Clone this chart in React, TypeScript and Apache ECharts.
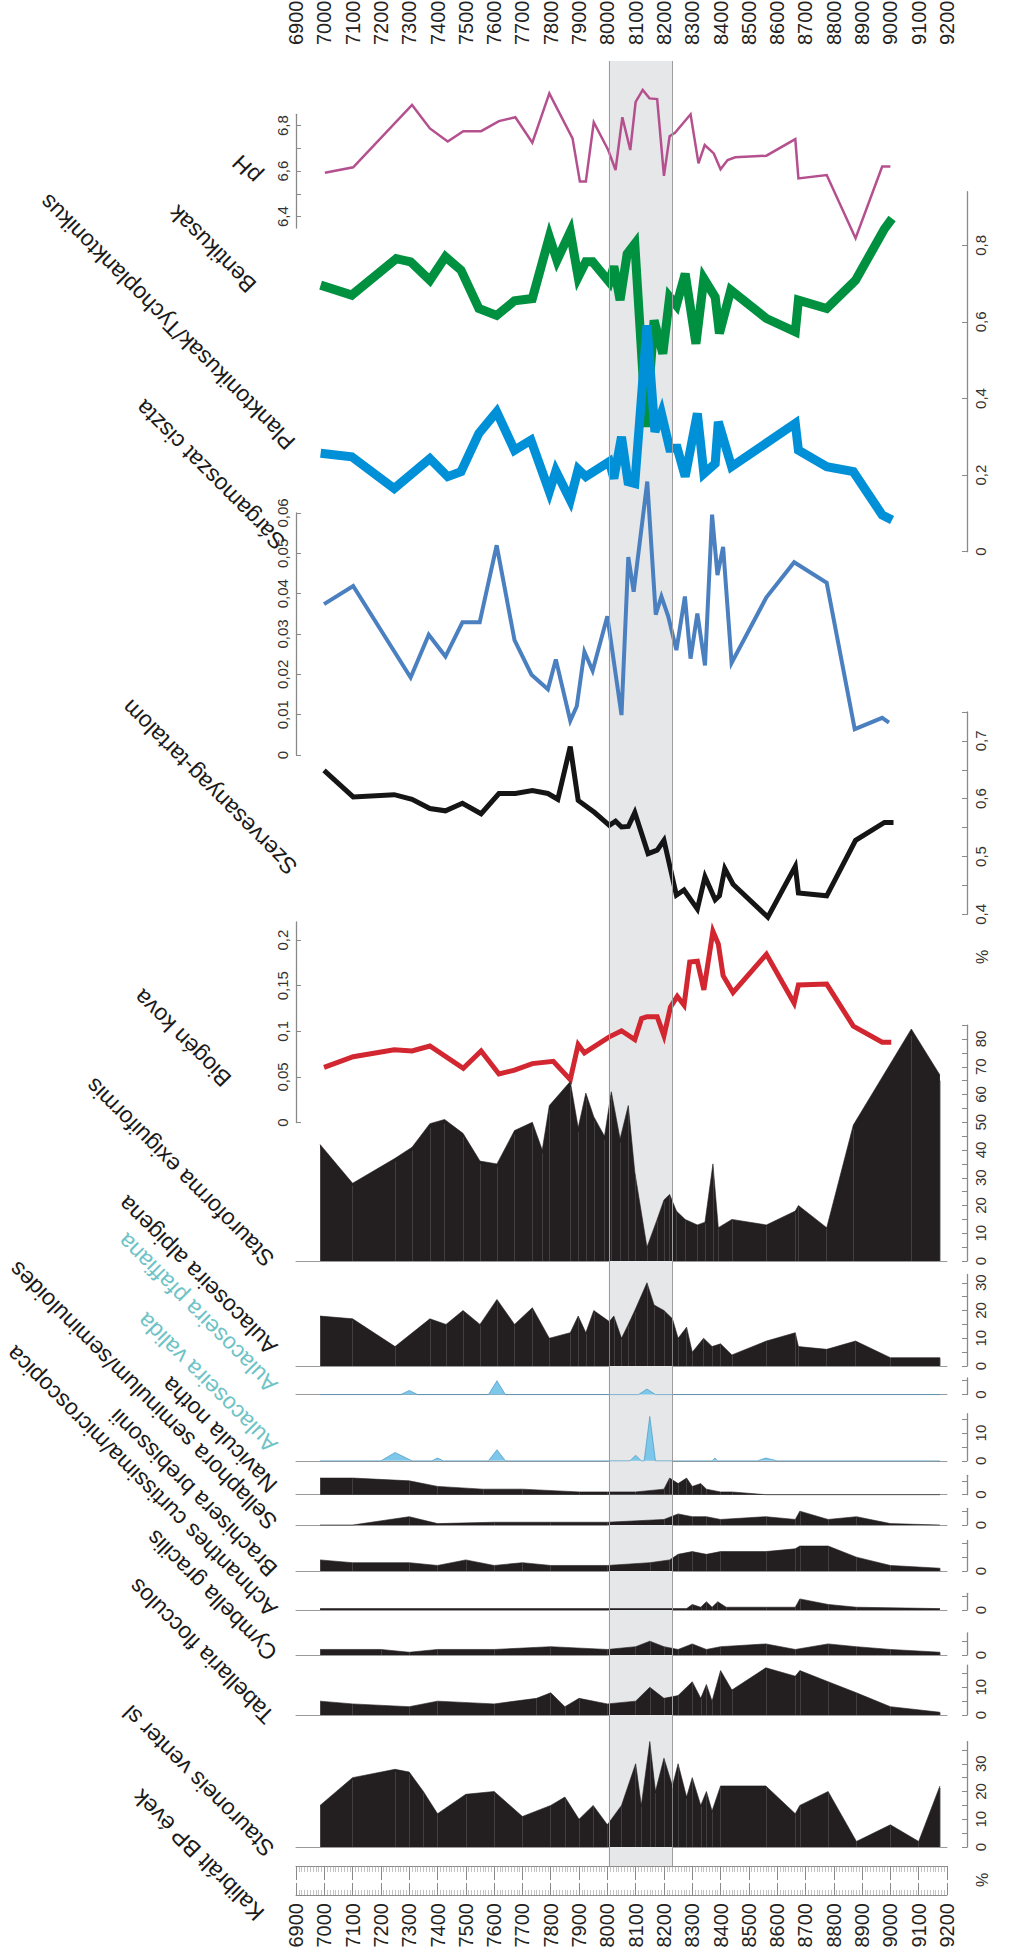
import React, { useEffect, useRef } from "react";
import * as echarts from "echarts";

const AGE_MIN = 6900;
const AGE_MAX = 9200;
const BAND = [8005, 8230];

const phData: [number, number][] = [
  [7002, 6.593], [7102, 6.617], [7310, 6.891], [7373, 6.788], [7436, 6.73], [7491, 6.776], [7554, 6.776],
  [7617, 6.82], [7675, 6.837], [7735, 6.725], [7795, 6.942], [7877, 6.744], [7903, 6.554], [7924, 6.554],
  [7952, 6.815], [8003, 6.693], [8029, 6.605], [8053, 6.837], [8081, 6.693], [8100, 6.905], [8125, 6.957],
  [8149, 6.92], [8176, 6.917], [8200, 6.579], [8220, 6.754], [8239, 6.769], [8294, 6.85], [8322, 6.634],
  [8344, 6.715], [8376, 6.678], [8400, 6.608], [8425, 6.649], [8452, 6.661], [8562, 6.668], [8664, 6.741],
  [8675, 6.568], [8775, 6.583], [8877, 6.305], [8971, 6.62], [9000, 6.62],
];

const benthicData: [number, number][] = [
  [6987, 0.696], [7097, 0.67], [7254, 0.765], [7305, 0.757], [7373, 0.709], [7428, 0.77], [7483, 0.735],
  [7546, 0.635], [7609, 0.617], [7672, 0.655], [7735, 0.661], [7795, 0.822], [7822, 0.761], [7869, 0.835],
  [7897, 0.717], [7924, 0.757], [7948, 0.757], [8007, 0.704], [8023, 0.745], [8045, 0.657], [8070, 0.778],
  [8097, 0.804], [8137, 0.326], [8165, 0.604], [8196, 0.517], [8220, 0.665], [8244, 0.643], [8275, 0.726],
  [8313, 0.543], [8341, 0.713], [8381, 0.665], [8396, 0.57], [8436, 0.683], [8562, 0.609], [8664, 0.574],
  [8675, 0.657], [8775, 0.635], [8877, 0.709], [8979, 0.843], [9006, 0.87],
];

const planktonData: [number, number][] = [
  [6987, 0.257], [7097, 0.248], [7247, 0.165], [7373, 0.243], [7436, 0.196], [7483, 0.209], [7546, 0.309],
  [7609, 0.365], [7672, 0.265], [7730, 0.291], [7795, 0.157], [7818, 0.211], [7869, 0.135], [7897, 0.215],
  [7924, 0.196], [8007, 0.235], [8023, 0.191], [8050, 0.3], [8073, 0.183], [8097, 0.178], [8140, 0.591],
  [8168, 0.313], [8191, 0.361], [8220, 0.27], [8247, 0.27], [8275, 0.196], [8318, 0.361], [8341, 0.204],
  [8381, 0.23], [8392, 0.339], [8439, 0.222], [8664, 0.335], [8675, 0.265], [8775, 0.222], [8869, 0.209],
  [8971, 0.096], [9006, 0.083],
];

const cystData: [number, number][] = [
  [6999, 0.0374], [7102, 0.0419], [7305, 0.0192], [7369, 0.0298], [7428, 0.0244], [7488, 0.0329],
  [7549, 0.0329], [7609, 0.052], [7672, 0.0285], [7732, 0.0199], [7790, 0.0163], [7818, 0.0237],
  [7869, 0.0085], [7892, 0.0121], [7919, 0.0256], [7948, 0.0209], [8000, 0.0344], [8050, 0.0099],
  [8074, 0.0491], [8093, 0.0405], [8141, 0.0678], [8171, 0.0348], [8191, 0.0393], [8215, 0.0344],
  [8244, 0.026], [8274, 0.0393], [8294, 0.0239], [8318, 0.0351], [8345, 0.0222], [8370, 0.0596],
  [8389, 0.0446], [8409, 0.0516], [8439, 0.0228], [8562, 0.0391], [8660, 0.0478], [8775, 0.0427],
  [8874, 0.0064], [8971, 0.0092], [8995, 0.008],
];

const organicData: [number, number][] = [
  [6999, 0.649], [7102, 0.603], [7247, 0.607], [7310, 0.599], [7373, 0.583], [7428, 0.579], [7488, 0.592],
  [7554, 0.574], [7617, 0.609], [7675, 0.609], [7735, 0.614], [7790, 0.609], [7825, 0.599], [7869, 0.69],
  [7897, 0.597], [7955, 0.576], [8007, 0.554], [8029, 0.561], [8050, 0.551], [8074, 0.552], [8097, 0.576],
  [8144, 0.505], [8176, 0.511], [8200, 0.528], [8244, 0.433], [8271, 0.442], [8318, 0.409], [8345, 0.465],
  [8381, 0.425], [8396, 0.432], [8415, 0.479], [8444, 0.452], [8567, 0.395], [8664, 0.483], [8675, 0.437],
  [8775, 0.432], [8877, 0.528], [8979, 0.559], [9011, 0.559],
];

const silicaData: [number, number][] = [
  [6999, 0.0604], [7102, 0.0721], [7247, 0.0797], [7310, 0.0784], [7373, 0.0839], [7491, 0.0595],
  [7554, 0.0784], [7617, 0.0532], [7672, 0.0574], [7735, 0.0646], [7809, 0.0671], [7869, 0.047],
  [7897, 0.0855], [7919, 0.0763], [8007, 0.0939], [8050, 0.1006], [8097, 0.091], [8121, 0.114],
  [8140, 0.1161], [8176, 0.1161], [8200, 0.0952], [8223, 0.1266], [8247, 0.1384], [8271, 0.1287],
  [8291, 0.1761], [8318, 0.1769], [8341, 0.1455], [8373, 0.2096], [8392, 0.1958], [8409, 0.161],
  [8444, 0.1426], [8562, 0.1845], [8660, 0.1308], [8675, 0.1509], [8775, 0.1518], [8869, 0.1057],
  [8971, 0.0881], [9003, 0.0881],
];

const stauroformaData: [number, number][] = [
  [6985, 42], [7100, 28], [7250, 37], [7310, 41], [7373, 49.5], [7425, 51], [7490, 46], [7550, 36],
  [7610, 35], [7672, 47], [7735, 50], [7770, 40], [7795, 56], [7869, 64.7], [7897, 48], [7924, 60.5],
  [7952, 52], [7990, 45], [8014, 61], [8045, 44], [8074, 56], [8097, 32], [8140, 5], [8176, 15],
  [8200, 22], [8220, 24], [8244, 18], [8275, 15], [8318, 13], [8345, 14], [8373, 35], [8392, 12],
  [8440, 15], [8562, 13], [8664, 18], [8675, 20], [8775, 12], [8869, 49], [9074, 83.6], [9175, 67],
];

const alpigenaData: [number, number][] = [
  [6985, 18], [7100, 17], [7250, 7], [7373, 17], [7430, 15], [7490, 20], [7550, 15], [7610, 24],
  [7672, 15], [7735, 21], [7795, 10], [7869, 12], [7897, 18], [7924, 12], [7952, 20], [8007, 16],
  [8023, 18], [8050, 10], [8074, 15], [8097, 20], [8140, 30], [8165, 22], [8200, 20], [8230, 17],
  [8250, 10], [8280, 14], [8300, 5], [8340, 10], [8370, 7], [8400, 8], [8440, 4], [8562, 9],
  [8664, 12], [8675, 7], [8775, 6], [8877, 9], [9000, 3], [9175, 3],
];

const pfaffianaData: [number, number][] = [
  [6985, 0], [7270, 0], [7300, 1.5], [7330, 0], [7580, 0], [7610, 5], [7640, 0], [8110, 0],
  [8140, 2], [8170, 0], [9175, 0],
];

const validaData: [number, number][] = [
  [6985, 0], [7200, 0], [7250, 3], [7310, 0], [7380, 0], [7400, 1], [7420, 0], [7580, 0],
  [7610, 4], [7640, 0], [8080, 0], [8100, 2], [8120, 0], [8130, 0], [8150, 16], [8170, 0],
  [8370, 0], [8380, 1], [8390, 0], [8530, 0], [8560, 1], [8600, 0], [9175, 0],
];

const naviculaData: [number, number][] = [
  [6985, 6], [7100, 6], [7300, 5], [7400, 3], [7560, 2], [7700, 2], [7900, 1], [8000, 1], [8100, 1],
  [8200, 2], [8220, 6], [8250, 4], [8280, 6], [8300, 3], [8330, 4], [8350, 2], [8400, 1], [8440, 1],
  [8560, 0], [8700, 0], [9175, 0],
];

const sellaphoraData: [number, number][] = [
  [6985, 0], [7100, 0], [7300, 3], [7400, 0.5], [7600, 1], [7800, 1], [8000, 1], [8200, 2], [8250, 4],
  [8300, 3], [8350, 3], [8400, 2], [8560, 3], [8664, 2], [8680, 5], [8780, 2], [8880, 3], [9000, 0.5],
  [9175, 0],
];

const brachiseraData: [number, number][] = [
  [6985, 4], [7100, 3], [7300, 3], [7400, 2], [7500, 4], [7600, 2], [7700, 3], [7800, 2], [8000, 2],
  [8150, 3], [8220, 4], [8250, 6], [8300, 7], [8350, 6], [8400, 7], [8560, 7], [8664, 8], [8680, 9],
  [8780, 9], [8880, 5], [9000, 2], [9175, 1],
];

const achnanthesData: [number, number][] = [
  [6985, 0.5], [8280, 0.5], [8300, 2], [8330, 1], [8350, 3], [8370, 1], [8390, 3], [8420, 1],
  [8560, 1], [8664, 1], [8680, 4], [8780, 2], [8880, 1], [9175, 0.5],
];

const cymbellaData: [number, number][] = [
  [6985, 2], [7200, 2], [7300, 1], [7400, 2], [7600, 2], [7800, 3], [8000, 2], [8100, 3], [8150, 5],
  [8200, 3], [8250, 2], [8300, 4], [8350, 2], [8400, 3], [8560, 4], [8664, 2], [8780, 4], [8880, 3],
  [9000, 2], [9175, 1],
];

const tabellariaData: [number, number][] = [
  [6985, 5], [7100, 4], [7300, 3], [7400, 5], [7600, 4], [7750, 6], [7800, 8], [7850, 3], [7900, 6],
  [8000, 4], [8100, 5], [8150, 10], [8200, 6], [8250, 7], [8300, 12], [8330, 6], [8350, 11], [8370, 5],
  [8400, 16], [8440, 9], [8560, 17], [8664, 14], [8680, 16], [8780, 12], [8880, 8], [9000, 3], [9175, 1],
];

const stauroneisData: [number, number][] = [
  [6985, 15], [7100, 25], [7250, 28], [7300, 27], [7350, 20], [7400, 12], [7500, 19], [7600, 20],
  [7700, 11], [7800, 15], [7850, 18], [7900, 10], [7950, 15], [8000, 8], [8050, 15], [8100, 30],
  [8120, 15], [8150, 38], [8170, 20], [8200, 32], [8230, 22], [8250, 30], [8280, 18], [8300, 25],
  [8330, 15], [8350, 20], [8370, 13], [8400, 22], [8560, 22], [8664, 12], [8680, 15], [8780, 20],
  [8880, 2], [9000, 8], [9100, 2], [9175, 22],
];

const ageTickLabels = [6900, 7000, 7100, 7200, 7300, 7400, 7500, 7600, 7700, 7800, 7900, 8000, 8100,
  8200, 8300, 8400, 8500, 8600, 8700, 8800, 8900, 9000, 9100, 9200];

const FONT = '"Liberation Sans", Arial, Helvetica, sans-serif';
const GRID_LEFT = 296;
const GRID_RIGHT = 77;
const PX_PER_PCT = 2.775;
const AXIS_GRAY = "#8a8a8a";
const DIATOM_FILL = "#231f20";
const CYAN_FILL = "#7cc7ea";
const CYAN_TEXT = "#6ec3c6";

const fmt = (v: number) => String(Math.round(v * 10000) / 10000).replace(".", ",");

function buildOption() {
  const grid: any[] = [];
  const xAxis: any[] = [];
  const yAxis: any[] = [];
  const series: any[] = [];
  const graphic: any[] = [];

  const rulerAxis = (gridIndex: number, position: string, major: number, minor: number, margin: number) => ({
    gridIndex,
    type: "value",
    position,
    min: AGE_MIN,
    max: AGE_MAX,
    interval: 100,
    axisLine: { show: true, lineStyle: { color: AXIS_GRAY, width: 1 } },
    axisTick: { show: true, inside: true, length: major, lineStyle: { color: AXIS_GRAY, width: 1 } },
    minorTick: { show: true, splitNumber: 10, length: minor, lineStyle: { color: "#9a9a9a", width: 0.6 } },
    axisLabel: {
      show: true,
      rotate: 90,
      margin,
      fontSize: 20,
      color: "#222",
      fontFamily: FONT,
      customValues: ageTickLabels,
      formatter: (v: number) => String(v),
    },
    splitLine: { show: false },
    minorSplitLine: { show: false },
  });

  // grid 0: band + top ruler
  grid.push({ left: GRID_LEFT, right: GRID_RIGHT, top: 61, height: 1805, outerBoundsMode: "none" });
  xAxis.push(rulerAxis(0, "top", 14, 6, 16));
  yAxis.push({ gridIndex: 0, type: "value", min: 0, max: 1, show: false });
  series.push({
    type: "line",
    xAxisIndex: 0,
    yAxisIndex: 0,
    data: [[AGE_MIN, -1]],
    symbol: "none",
    lineStyle: { opacity: 0 },
    silent: true,
    z: 0,
    markArea: {
      silent: true,
      itemStyle: { color: "#e6e7e9" },
      data: [[{ xAxis: BAND[0] }, { xAxis: BAND[1] }]],
    },
    markLine: {
      silent: true,
      symbol: ["none", "none"],
      label: { show: false },
      lineStyle: { color: "#9d9d9d", type: "solid", width: 1 },
      data: [{ xAxis: BAND[0] }, { xAxis: BAND[1] }],
    },
  });

  // grid 1: bottom ruler
  grid.push({ left: GRID_LEFT, right: GRID_RIGHT, top: 1894, height: 1, outerBoundsMode: "none" });
  xAxis.push(rulerAxis(1, "bottom", 12, 5, 8));
  yAxis.push({ gridIndex: 1, type: "value", min: 0, max: 1, show: false });

  type Panel = {
    top: number;
    height: number;
    min: number;
    max: number;
    side: "left" | "right";
    ticks: number[];
    labels: number[];
    baseline?: boolean;
  };

  const addPanel = (p: Panel) => {
    const i = grid.length;
    grid.push({ left: GRID_LEFT, right: GRID_RIGHT, top: p.top, height: p.height, outerBoundsMode: "none" });
    xAxis.push({
      gridIndex: i,
      type: "value",
      min: AGE_MIN,
      max: AGE_MAX,
      show: !!p.baseline,
      position: "bottom",
      axisLine: { show: !!p.baseline, onZero: false, lineStyle: { color: "#9a9a9a", width: 1 } },
      axisTick: { show: false },
      axisLabel: { show: false },
      splitLine: { show: false },
    });
    yAxis.push({
      gridIndex: i,
      type: "value",
      min: p.min,
      max: p.max,
      position: p.side,
      offset: p.side === "right" ? 20 : 0,
      axisLine: { show: true, onZero: false, lineStyle: { color: AXIS_GRAY, width: 1.3 } },
      axisTick: { show: true, inside: true, length: 5, customValues: p.ticks, lineStyle: { color: AXIS_GRAY } },
      axisLabel: {
        show: true,
        rotate: 90,
        margin: 6,
        customValues: p.labels,
        formatter: fmt,
        fontSize: 15,
        color: "#333",
        fontFamily: FONT,
      },
      splitLine: { show: false },
    });
    return i;
  };

  const addLine = (i: number, data: [number, number][], color: string, width: number) => {
    series.push({
      type: "line",
      xAxisIndex: i,
      yAxisIndex: i,
      data,
      symbol: "none",
      clip: false,
      z: 3,
      lineStyle: { color, width, join: "miter" },
    });
  };

  const addArea = (i: number, data: [number, number][], fill: string, stroke: string, hairlines: boolean) => {
    series.push({
      type: "line",
      xAxisIndex: i,
      yAxisIndex: i,
      data,
      symbol: "none",
      clip: false,
      z: 3,
      lineStyle: { color: stroke, width: 0.6 },
      areaStyle: { color: fill, opacity: 1, origin: "start" },
      markLine: hairlines
        ? {
            silent: true,
            symbol: ["none", "none"],
            label: { show: false },
            lineStyle: { color: "#5e5e5e", type: "solid", width: 0.5 },
            data: data
              .filter((d) => d[1] > 0.8)
              .map((d) => [{ coord: [d[0], 0] }, { coord: [d[0], d[1] * 0.97] }]),
          }
        : undefined,
    });
  };

  // pH
  const gPh = addPanel({ top: 114.3, height: 113.7, min: 6.35, max: 6.85, side: "left",
    ticks: [6.4, 6.5, 6.6, 6.7, 6.8], labels: [6.4, 6.6, 6.8] });
  addLine(gPh, phData, "#b5508f", 2.5);

  // Benthic / Planktonic
  const gBp = addPanel({ top: 191.7, height: 360, min: 0, max: 0.94, side: "right",
    ticks: [0, 0.2, 0.4, 0.6, 0.8], labels: [0, 0.2, 0.4, 0.6, 0.8] });
  addLine(gBp, benthicData, "#009140", 9);
  addLine(gBp, planktonData, "#0090d8", 9);

  // Chrysophyte cysts
  const gCy = addPanel({ top: 513, height: 242, min: 0, max: 0.06, side: "left",
    ticks: [0, 0.01, 0.02, 0.03, 0.04, 0.05, 0.06], labels: [0, 0.01, 0.02, 0.03, 0.04, 0.05, 0.06] });
  addLine(gCy, cystData, "#4a80c0", 4);

  // Organic matter
  const gOm = addPanel({ top: 712, height: 202.3, min: 0.4, max: 0.75, side: "right",
    ticks: [0.4, 0.45, 0.5, 0.55, 0.6, 0.65, 0.7, 0.75], labels: [0.4, 0.5, 0.6, 0.7] });
  addLine(gOm, organicData, "#151515", 5);

  // Biogenic silica
  const gBs = addPanel({ top: 921.9, height: 200.6, min: 0, max: 0.22, side: "left",
    ticks: [0, 0.05, 0.1, 0.15, 0.2], labels: [0, 0.05, 0.1, 0.15, 0.2] });
  addLine(gBs, silicaData, "#d22630", 5);

  // Diatom panels
  const diatomPanels: { base: number; max: number; labels: number[]; data: [number, number][]; cyan?: boolean }[] = [
    { base: 1261, max: 85, labels: [0, 10, 20, 30, 40, 50, 60, 70, 80], data: stauroformaData },
    { base: 1366, max: 33, labels: [0, 10, 20, 30], data: alpigenaData },
    { base: 1394.6, max: 6, labels: [0], data: pfaffianaData, cyan: true },
    { base: 1460.8, max: 17, labels: [0, 10], data: validaData, cyan: true },
    { base: 1494.7, max: 7, labels: [0], data: naviculaData },
    { base: 1525, max: 6, labels: [0], data: sellaphoraData },
    { base: 1571, max: 11, labels: [0], data: brachiseraData },
    { base: 1610, max: 6, labels: [0], data: achnanthesData },
    { base: 1655, max: 8, labels: [0], data: cymbellaData },
    { base: 1715, max: 18, labels: [0, 10], data: tabellariaData },
    { base: 1847, max: 38, labels: [0, 10, 20, 30], data: stauroneisData },
  ];
  diatomPanels.forEach((d) => {
    const h = d.max * PX_PER_PCT;
    const ticks: number[] = [];
    for (let v = 0; v <= d.max + 1e-9; v += 5) ticks.push(v);
    const i = addPanel({ top: d.base - h, height: h, min: 0, max: d.max, side: "right", ticks, labels: d.labels, baseline: true });
    addArea(i, d.data, d.cyan ? CYAN_FILL : DIATOM_FILL, d.cyan ? "#3a8fc0" : DIATOM_FILL, !d.cyan);
  });

  // Diagonal labels
  const labels: { text: string; x: number; y: number; color?: string }[] = [
    { text: "pH", x: 257, y: 180 },
    { text: "Bentikusak", x: 252, y: 289 },
    { text: "Planktonikusak/Tychoplanktonikus", x: 291, y: 446 },
    { text: "Sárgamoszat ciszta", x: 281, y: 546 },
    { text: "Szervesanyag-tartalom", x: 293, y: 871 },
    { text: "Biogén kova", x: 227, y: 1083 },
    { text: "Stauroforma exiguiformis", x: 270, y: 1263 },
    { text: "Aulacoseira alpigena", x: 273, y: 1351 },
    { text: "Aulacoseira pfaffiana", x: 273, y: 1389, color: CYAN_TEXT },
    { text: "Aulacoseira valida", x: 273, y: 1449, color: CYAN_TEXT },
    { text: "Navicula notha", x: 273, y: 1489 },
    { text: "Sellaphora seminulum/seminuloides", x: 273, y: 1526 },
    { text: "Brachisera brebissonii", x: 273, y: 1573 },
    { text: "Achnanthes curtissima/microscopica", x: 273, y: 1613 },
    { text: "Cymbella gracilis", x: 273, y: 1657 },
    { text: "Tabellaria flocculos", x: 270, y: 1720 },
    { text: "Stauroneis venter sl", x: 270, y: 1853 },
    { text: "Kalibrált BP évek", x: 260, y: 1917 },
  ];
  labels.forEach((l) => {
    graphic.push({
      type: "text",
      x: l.x,
      y: l.y,
      rotation: (3 * Math.PI) / 4,
      silent: true,
      style: {
        text: l.text,
        fill: l.color || "#1a1a1a",
        font: `23px ${FONT}`,
        align: "left",
        verticalAlign: "middle",
      },
    });
  });
  [
    { x: 982, y: 957 },
    { x: 982, y: 1880 },
  ].forEach((p) => {
    graphic.push({
      type: "text",
      x: p.x,
      y: p.y,
      rotation: Math.PI / 2,
      silent: true,
      style: { text: "%", fill: "#333", font: `16px ${FONT}`, align: "center", verticalAlign: "middle" },
    });
  });

  return {
    animation: false,
    backgroundColor: "#ffffff",
    grid,
    xAxis,
    yAxis,
    series,
    graphic,
  };
}

export default function App() {
  const ref = useRef<HTMLDivElement>(null);
  useEffect(() => {
    if (!ref.current) return;
    const chart = echarts.init(ref.current, null, { renderer: "svg" });
    chart.setOption(buildOption() as any);
    return () => chart.dispose();
  }, []);
  return (
    <div
      ref={ref}
      style={{ position: "absolute", left: 0, top: 0, width: 1024, height: 1951, background: "#fff" }}
    />
  );
}
